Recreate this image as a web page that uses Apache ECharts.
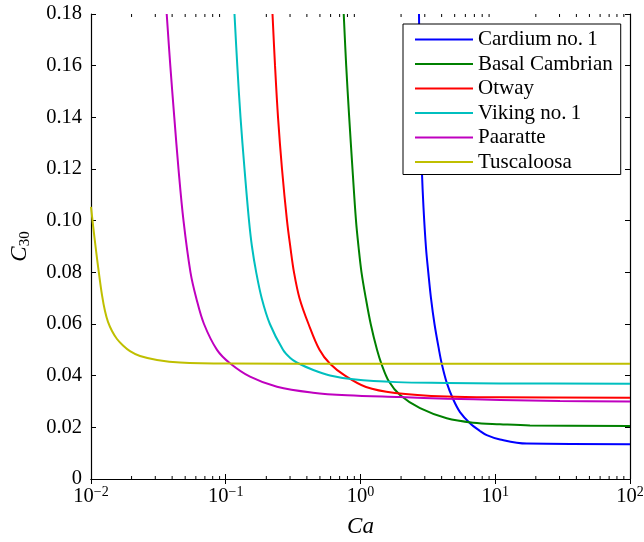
<!DOCTYPE html>
<html>
<head>
<meta charset="utf-8">
<title>C30 versus Ca</title>
<script src="https://cdn.jsdelivr.net/npm/echarts@6/dist/echarts.min.js"></script>
<style>
  html, body { margin: 0; padding: 0; background: #fff; }
  #chart { width: 644px; height: 542px; }
</style>
</head>
<body>
<div id="chart"></div>
<script>
// Capillary number Ca (x, log scale) and C30 (y) for each formation
const seriesNames = ['Cardium no.\u20091', 'Basal Cambrian', 'Otway', 'Viking no.\u20091', 'Paaratte', 'Tuscaloosa'];
const seriesColors = ['#0000ff', '#008000', '#ff0000', '#00bfbf', '#bf00bf', '#bfbf00'];

const cardiumCa  = [2.717, 2.778, 2.851, 2.935, 3.063, 3.185, 3.335, 3.541, 3.824, 4.005, 4.363, 4.858, 5.474, 6.494, 7.704, 8.644, 10.85, 17.12, 100];
const cardiumC30 = [0.1800, 0.1400, 0.1200, 0.1050, 0.0894, 0.0800, 0.0700, 0.0600, 0.0500, 0.0447, 0.0373, 0.0310, 0.0259, 0.0216, 0.0186, 0.0170, 0.0153, 0.0137, 0.0135];

const basalCa  = [0.7507, 0.7832, 0.8244, 0.8721, 0.9260, 0.9664, 1.0172, 1.0948, 1.1907, 1.326, 1.432, 1.628, 1.964, 2.765, 4.363, 6.872, 10.85, 18.11, 100];
const basalC30 = [0.1800, 0.1600, 0.1400, 0.1200, 0.1000, 0.0900, 0.0800, 0.0700, 0.0600, 0.0500, 0.0445, 0.0377, 0.0325, 0.0274, 0.0235, 0.0218, 0.0212, 0.0207, 0.0205];

const otwayCa  = [0.2223, 0.2321, 0.2443, 0.2615, 0.2848, 0.3023, 0.3210, 0.3527, 0.4114, 0.4962, 0.5939, 0.7674, 1.0985, 1.803, 4.363, 10.85, 100];
const otwayC30 = [0.1800, 0.1600, 0.1400, 0.1200, 0.1000, 0.0894, 0.0800, 0.0700, 0.0600, 0.0500, 0.0446, 0.0400, 0.0356, 0.0333, 0.0319, 0.0316, 0.0315];

const vikingCa  = [0.1161, 0.1218, 0.1287, 0.1378, 0.1488, 0.1565, 0.1683, 0.1849, 0.2126, 0.2660, 0.3011, 0.3361, 0.4463, 0.5939, 0.8843, 1.856, 4.363, 10.85, 100];
const vikingC30 = [0.1800, 0.1600, 0.1400, 0.1200, 0.1000, 0.0900, 0.0800, 0.0700, 0.0600, 0.0500, 0.0468, 0.0451, 0.0422, 0.0401, 0.0386, 0.0375, 0.0372, 0.0370, 0.0369];

const paaratteCa  = [0.03646, 0.03877, 0.04151, 0.04460, 0.04858, 0.05474, 0.06045, 0.06896, 0.08611, 0.1075, 0.1514, 0.2401, 0.4441, 0.7943, 1.964, 4.385, 10.85, 30.24, 100];
const paaratteC30 = [0.1800, 0.1600, 0.1400, 0.1200, 0.1000, 0.0800, 0.0700, 0.0600, 0.0500, 0.0448, 0.0396, 0.0357, 0.0334, 0.0324, 0.0317, 0.0311, 0.0306, 0.0302, 0.0300];

const tuscaloosaCa  = [0.01000, 0.01035, 0.01089, 0.01147, 0.01207, 0.01270, 0.01337, 0.01432, 0.01559, 0.01728, 0.01947, 0.02310, 0.03090, 0.04575, 0.1075, 1, 100];
const tuscaloosaC30 = [0.1053, 0.0983, 0.0886, 0.0794, 0.0712, 0.0650, 0.0608, 0.0573, 0.0542, 0.0517, 0.0495, 0.0476, 0.0461, 0.0451, 0.0447, 0.0446, 0.0446];

const seriesCa  = [cardiumCa, basalCa, otwayCa, vikingCa, paaratteCa, tuscaloosaCa];
const seriesC30 = [cardiumC30, basalC30, otwayC30, vikingC30, paaratteC30, tuscaloosaC30];

// axis ranges and ticks
const caMin = 0.01, caMax = 100;
const c30Min = 0, c30Max = 0.18, c30Step = 0.02;
const minorDecades = [-2, -1, 0, 1];
const minorMultipliers = [2, 3, 4, 5, 6, 7, 8, 9];

const minorTickValues = [];
minorDecades.forEach(d => minorMultipliers.forEach(m => minorTickValues.push([m * Math.pow(10, d), 0])));

const serif = 'Liberation Serif';

function pairs(xs, ys) { return xs.map((x, i) => [x, ys[i]]); }

function expLabel(v) {
  const e = Math.round(Math.log10(v));
  const s = e < 0 ? '\u2212' + (-e) : String(e);
  return '{b|10}{sup|' + s + '}';
}

const chart = echarts.init(document.getElementById('chart'), null, { renderer: 'canvas' });

const lineSeries = seriesNames.map((name, i) => ({
  name: name,
  type: 'line',
  data: pairs(seriesCa[i], seriesC30[i]),
  showSymbol: false,
  symbol: 'none',
  smooth: 0.35,
  color: seriesColors[i],
  lineStyle: { width: 2, color: seriesColors[i] },
  z: 3,
  silent: true,
  animation: false
}));

// minor ticks of the log axis, bottom and top edges
const minorTickSeries = {
  type: 'custom',
  data: minorTickValues,
  clip: false,
  silent: true,
  animation: false,
  z: 5,
  renderItem: function (params, api) {
    const v = api.value(0);
    const b = api.coord([v, c30Min]);
    const t = api.coord([v, c30Max]);
    return {
      type: 'group',
      children: [
        { type: 'line', shape: { x1: b[0], y1: b[1], x2: b[0], y2: b[1] - 3 }, style: { stroke: '#000', lineWidth: 1 } },
        { type: 'line', shape: { x1: t[0], y1: t[1], x2: t[0], y2: t[1] + 3 }, style: { stroke: '#000', lineWidth: 1 } }
      ]
    };
  }
};

const axisLineStyle = { show: true, lineStyle: { color: '#000', width: 1.2 } };
const tickStyle = { show: true, inside: true, length: 5, lineStyle: { color: '#000', width: 1 } };

chart.setOption({
  animation: false,
  backgroundColor: '#fff',
  grid: { left: 91, right: 14, top: 14, bottom: 63, containLabel: false, outerBoundsMode: 'none' },
  legend: {
    data: seriesNames,
    orient: 'vertical',
    left: 403,
    top: 24,
    padding: [5, 8, 2, 12],
    itemGap: 3.5,
    itemWidth: 58,
    itemHeight: 2,
    icon: 'rect',
    backgroundColor: '#fff',
    borderColor: '#000',
    borderWidth: 1,
    borderRadius: 0,
    selectedMode: false,
    textStyle: { fontFamily: serif, fontSize: 21, color: '#000', lineHeight: 20 }
  },
  xAxis: [
    {
      type: 'log',
      logBase: 10,
      min: caMin,
      max: caMax,
      position: 'bottom',
      name: 'Ca',
      nameLocation: 'middle',
      nameGap: 36,
      nameTextStyle: { fontFamily: serif, fontStyle: 'italic', fontSize: 23, color: '#000' },
      axisLine: axisLineStyle,
      axisTick: tickStyle,
      splitLine: { show: false },
      axisLabel: {
        margin: 6,
        formatter: expLabel,
        rich: {
          b: { fontFamily: serif, fontSize: 20.5, lineHeight: 24, color: '#000' },
          sup: { fontFamily: serif, fontSize: 14, lineHeight: 14, verticalAlign: 'top', color: '#000' }
        }
      }
    },
    {
      type: 'log',
      logBase: 10,
      min: caMin,
      max: caMax,
      position: 'top',
      axisLine: axisLineStyle,
      axisTick: tickStyle,
      axisLabel: { show: false },
      splitLine: { show: false }
    }
  ],
  yAxis: [
    {
      type: 'value',
      min: c30Min,
      max: c30Max,
      interval: c30Step,
      position: 'left',
      name: '{c|C}{s|30}',
      nameLocation: 'middle',
      nameGap: 58,
      nameTextStyle: {
        rich: {
          c: { fontFamily: serif, fontStyle: 'italic', fontSize: 23, lineHeight: 26, color: '#000' },
          s: { fontFamily: serif, fontSize: 15, lineHeight: 15, verticalAlign: 'bottom', color: '#000' }
        }
      },
      axisLine: axisLineStyle,
      axisTick: tickStyle,
      splitLine: { show: false },
      axisLabel: {
        margin: 9,
        fontFamily: serif,
        fontSize: 20.5,
        color: '#000',
        formatter: v => (v === 0 ? '0' : v.toFixed(2))
      }
    },
    {
      type: 'value',
      min: c30Min,
      max: c30Max,
      interval: c30Step,
      position: 'right',
      axisLine: axisLineStyle,
      axisTick: tickStyle,
      axisLabel: { show: false },
      splitLine: { show: false }
    }
  ],
  series: lineSeries.concat([minorTickSeries])
});
</script>
</body>
</html>
